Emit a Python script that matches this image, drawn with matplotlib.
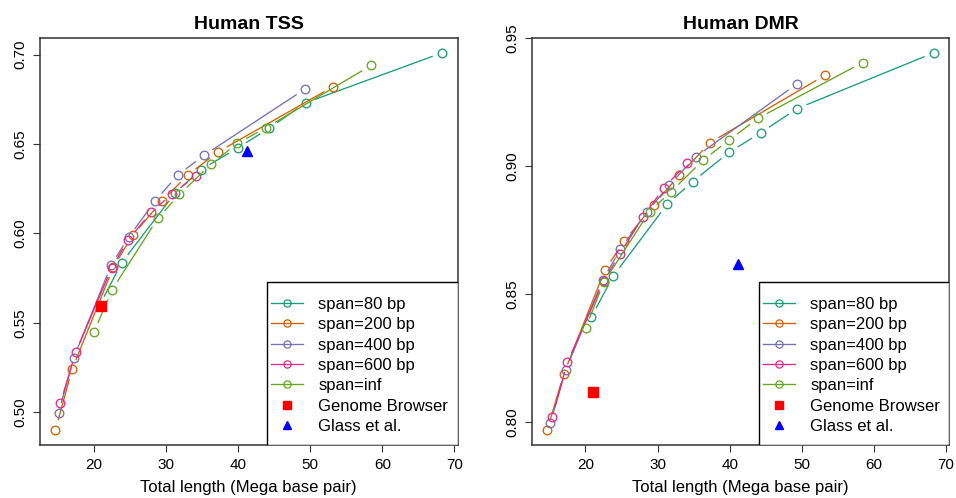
import matplotlib

matplotlib.use("Agg")
import matplotlib.pyplot as plt
import matplotlib.transforms as mtransforms
import numpy as np
from matplotlib.lines import Line2D
from matplotlib.patches import Rectangle

plt.rcParams["font.family"] = ["Liberation Sans", "DejaVu Sans"]

SERIES_LABELS = ["span=80 bp", "span=200 bp", "span=400 bp", "span=600 bp", "span=inf"]
SERIES_COLORS = ["#1B9E77", "#D95F02", "#7570B3", "#E7298A", "#66A61E"]

# total length (Mb) per span setting, shared by both panels
X_80 = [68.3, 49.36, 44.28, 39.93, 34.84, 31.3, 23.87, 20.8]
X_200 = [53.2, 37.24, 33.03, 29.43, 25.38, 22.7, 17.0, 14.69]
X_400 = [49.3, 35.27, 31.62, 28.5, 24.85, 22.4, 17.25, 15.12]
X_600 = [34.12, 30.9, 27.97, 24.75, 22.5, 17.48, 15.38]
X_INF = [58.43, 43.93, 39.9, 36.26, 31.88, 28.88, 22.52, 20.03]

TSS_80 = [0.701, 0.673, 0.6587, 0.6477, 0.6356, 0.6227, 0.5836, 0.5597]
TSS_200 = [0.6821, 0.6456, 0.6326, 0.618, 0.5989, 0.581, 0.524, 0.4901]
TSS_400 = [0.6808, 0.6436, 0.6326, 0.618, 0.598, 0.5821, 0.5306, 0.4998]
TSS_600 = [0.632, 0.6222, 0.6119, 0.5963, 0.5808, 0.5334, 0.505]
TSS_INF = [0.6939, 0.6592, 0.6503, 0.6387, 0.6218, 0.6084, 0.5683, 0.5447]

DMR_80 = [0.9444, 0.9226, 0.9131, 0.9055, 0.894, 0.8851, 0.8572, 0.841]
DMR_200 = [0.9356, 0.9092, 0.8966, 0.8849, 0.8707, 0.8596, 0.8189, 0.7969]
DMR_400 = [0.9322, 0.9037, 0.8927, 0.882, 0.8677, 0.8555, 0.8202, 0.7996]
DMR_600 = [0.9013, 0.8917, 0.8802, 0.8657, 0.855, 0.8233, 0.802]
DMR_INF = [0.9406, 0.9188, 0.9102, 0.9023, 0.8901, 0.8823, 0.8546, 0.8368]

BROWSER_X = 21.0
BROWSER_TSS = 0.5594
BROWSER_DMR = 0.8119
GLASS_X = 41.2
GLASS_TSS = 0.6458
GLASS_DMR = 0.8618

X_SERIES = [X_80, X_200, X_400, X_600, X_INF]
TSS_SERIES = [TSS_80, TSS_200, TSS_400, TSS_600, TSS_INF]
DMR_SERIES = [DMR_80, DMR_200, DMR_400, DMR_600, DMR_INF]

GAP_PX = 10.0
LEGEND_LEFT = 0.5435  # legend box left edge, axes fraction
LEGEND_TOP = 0.399    # legend box top edge, axes fraction


def r_range(values):
    lo, hi = min(values), max(values)
    pad = 0.04 * (hi - lo)
    return lo - pad, hi + pad


def draw_type_b(ax, xs, ys, color):
    # R style type="b": segments stop short of each point
    pts = ax.transData.transform(np.column_stack([xs, ys]))
    inv = ax.transData.inverted()
    for p0, p1 in zip(pts[:-1], pts[1:]):
        d = p1 - p0
        length = np.hypot(*d)
        if length <= 2 * GAP_PX:
            continue
        u = d / length
        seg = inv.transform(np.array([p0 + u * GAP_PX, p1 - u * GAP_PX]))
        ax.plot(seg[:, 0], seg[:, 1], color=color, lw=0.95, solid_capstyle="butt")
    ax.plot(xs, ys, ls="none", marker="o", ms=6.2, mfc="none", mec=color, mew=0.95)


def draw_legend(fig, ax):
    handles = [
        Line2D([], [], color=c, lw=0.95, marker="o", ms=5.2, mfc="none", mew=0.9)
        for c in SERIES_COLORS
    ]
    handles.append(Line2D([], [], ls="none", marker="s", ms=5.2, color="#FF0000"))
    handles.append(Line2D([], [], ls="none", marker="^", ms=6.0, color="#0000FF"))
    anchor = mtransforms.offset_copy(ax.transAxes, fig=fig, x=4.0, y=-14.5, units="dots")
    ax.legend(
        handles,
        SERIES_LABELS + ["Genome Browser", "Glass et al."],
        loc="upper left",
        bbox_to_anchor=(LEGEND_LEFT, LEGEND_TOP),
        bbox_transform=anchor,
        fontsize=12,
        frameon=False,
        borderaxespad=0,
        borderpad=0,
        labelspacing=0.32,
        handlelength=1.95,
        handletextpad=0.9,
    )
    ax.add_patch(Rectangle(
        (LEGEND_LEFT, 0), 1 - LEGEND_LEFT, LEGEND_TOP,
        transform=ax.transAxes, facecolor="white", edgecolor="black",
        lw=1.0, zorder=4.5,
    ))


def draw_panel(fig, ax, title, y_series, browser_y, glass_y, yticks):
    all_x = [v for xs in X_SERIES for v in xs] + [BROWSER_X, GLASS_X]
    all_y = [v for ys in y_series for v in ys] + [browser_y, glass_y]
    ax.set_xlim(*r_range(all_x))
    ax.set_ylim(*r_range(all_y))

    for xs, ys, color in zip(X_SERIES, y_series, SERIES_COLORS):
        draw_type_b(ax, xs, ys, color)
    ax.plot([BROWSER_X], [browser_y], ls="none", marker="s", ms=6.8, color="#FF0000")
    ax.plot([GLASS_X], [glass_y], ls="none", marker="^", ms=7.6, color="#0000FF")

    ax.set_title(title, fontsize=14, fontweight="bold", pad=6)
    ax.set_xlabel("Total length (Mega base pair)", fontsize=12, labelpad=6)
    ax.set_xticks([20, 30, 40, 50, 60, 70])
    ax.set_yticks(yticks)
    ax.set_yticklabels([f"{t:.2f}" for t in yticks], rotation=90, va="center")
    ax.tick_params(axis="both", labelsize=11, length=5, width=0.8, color="#333333")
    ax.tick_params(axis="x", pad=4)
    ax.tick_params(axis="y", pad=4)
    for spine in ax.spines.values():
        spine.set_linewidth(1.1)
        spine.set_color("#333333")

    draw_legend(fig, ax)


fig = plt.figure(figsize=(9.56, 4.98), dpi=100)
ax_tss = fig.add_axes([0.0418, 0.1064, 0.4369, 0.8179])
ax_dmr = fig.add_axes([0.5562, 0.1064, 0.4368, 0.8179])

draw_panel(fig, ax_tss, "Human TSS", TSS_SERIES, BROWSER_TSS, GLASS_TSS,
           [0.50, 0.55, 0.60, 0.65, 0.70])
draw_panel(fig, ax_dmr, "Human DMR", DMR_SERIES, BROWSER_DMR, GLASS_DMR,
           [0.80, 0.85, 0.90, 0.95])

fig.savefig("out.png", dpi=100)
